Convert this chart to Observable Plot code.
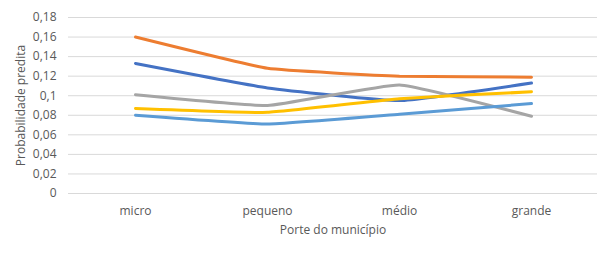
<!DOCTYPE html>
<html>
<head>
<meta charset="utf-8">
<script src="https://cdn.jsdelivr.net/npm/d3@7"></script>
<script src="https://cdn.jsdelivr.net/npm/@observablehq/plot@0.6"></script>
<style>
  html, body { margin: 0; padding: 0; background: #fff; }
  #chart { width: 612px; height: 255px; }
</style>
</head>
<body>
<div id="chart"></div>
<script>
const categories = ["micro", "pequeno", "médio", "grande"];
const seriesNames = ["Série 1", "Série 2", "Série 3", "Série 4", "Série 5"];
const serie1 = [0.133, 0.108, 0.095, 0.113];
const serie2 = [0.160, 0.128, 0.120, 0.119];
const serie3 = [0.101, 0.090, 0.111, 0.079];
const serie4 = [0.087, 0.083, 0.097, 0.104];
const serie5 = [0.080, 0.071, 0.081, 0.092];
const seriesColors = ["#4472C4", "#ED7D31", "#A5A5A5", "#FFC000", "#5B9BD5"];
const yTicks = [0, 0.02, 0.04, 0.06, 0.08, 0.1, 0.12, 0.14, 0.16, 0.18];

const allSeries = [serie1, serie2, serie3, serie4, serie5];
const data = [];
allSeries.forEach((vals, i) => {
  vals.forEach((v, j) => data.push({serie: seriesNames[i], cat: categories[j], value: v}));
});

const fmt = d => String(+d.toFixed(2)).replace(".", ",");

const chart = Plot.plot({
  width: 612,
  height: 255,
  marginLeft: 68,
  marginRight: 15,
  marginTop: 17,
  marginBottom: 62,
  style: {fontFamily: "Open Sans, sans-serif", fontSize: "11px", color: "#595959", background: "#fff"},
  x: {type: "point", domain: categories, padding: 0.5},
  y: {domain: [0, 0.18]},
  color: {domain: seriesNames, range: seriesColors},
  marks: [
    Plot.gridY(yTicks, {stroke: "#D9D9D9", strokeOpacity: 1, strokeWidth: 1}),
    Plot.axisY(yTicks, {tickSize: 0, tickPadding: 12, tickFormat: fmt, fill: "#595959",
      label: "Probabilidade predita", labelAnchor: "center", labelArrow: "none", labelOffset: 52, fontSize: 12}),
    Plot.axisX({tickSize: 0, tickPadding: 13, fill: "#595959", label: "Porte do município",
      labelAnchor: "center", labelArrow: "none", labelOffset: 40, fontSize: 12}),
    Plot.line(data, {x: "cat", y: "value", z: "serie", stroke: "serie", strokeWidth: 3,
      curve: "cardinal", tension: 0.65, strokeLinecap: "round"})
  ]
});
document.getElementById("chart").appendChild(chart);
</script>
</body>
</html>
